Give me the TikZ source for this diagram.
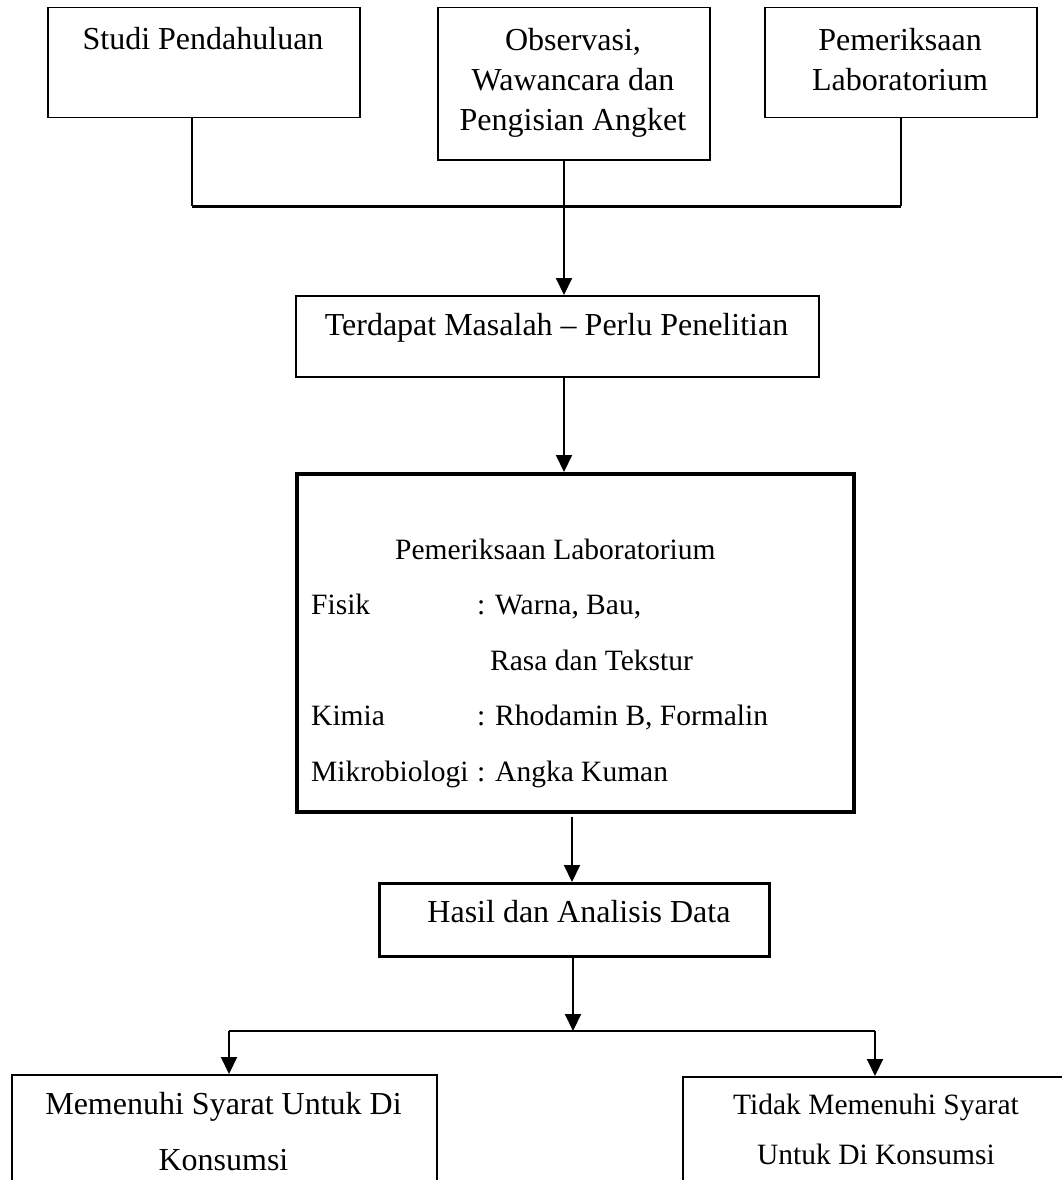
\documentclass[tikz,border=0pt]{standalone}
\usepackage{fontspec}
\setmainfont{Liberation Serif}
\usetikzlibrary{arrows.meta}
\begin{document}
\begin{tikzpicture}[x=1pt,y=-1pt,
  box/.style={draw, rectangle, inner sep=0pt, anchor=north west},
  txt/.style={inner sep=0pt, align=center, anchor=north},
  conn/.style={line width=2pt},
  bus/.style={line width=3pt},
  arr/.style={line width=2pt, -{Triangle[length=17pt,width=16pt]}},
  fbig/.style={font=\fontsize{32}{40}\selectfont},
]
\useasboundingbox (0,0) rectangle (1062,1180);
\clip (0,0) rectangle (1062,1180);
\fill[white] (0,0) rectangle (1062,1180);

% top boxes
\node[box, line width=1.5pt, minimum width=312pt, minimum height=110pt] (b1) at (47,7) {};
\node[box, line width=1.5pt, minimum width=272pt, minimum height=152pt] (b2) at (437,7) {};
\node[box, line width=1.5pt, minimum width=272pt, minimum height=110pt] (b3) at (764,7) {};
\node[txt, fbig] (b1t) at (203,21) {\strut Studi Pendahuluan};
\node[txt, fbig] (b2t) at (573,22) {\strut Observasi,\\Wawancara dan\\Pengisian Angket};
\node[txt, fbig] (b3t) at (900,22) {\strut Pemeriksaan\\Laboratorium};

% junction bus
\coordinate (j1) at (192,206);
\coordinate (j2) at (564,206);
\coordinate (j3) at (901,206);
\draw[conn] (b1.south -| j1) -- (j1);
\draw[conn] (b3.south -| j3) -- (j3);
\draw[bus] (j1) -- (j3);

% problem box
\node[box, line width=1.5pt, minimum width=523pt, minimum height=81pt] (t) at (295,295) {};
\node[txt, fbig] (tt) at (556.5,307) {\strut Terdapat Masalah – Perlu Penelitian};
\draw[arr] (b2.south -| j2) -- (t.north -| j2);

% laboratory box
\node[box, line width=3.5pt, minimum width=557pt, minimum height=338pt] (lab) at (295,472) {};
\draw[arr] (t.south -| j2) -- (lab.north -| j2);
\node[inner sep=0pt, anchor=north west, font=\fontsize{29.5}{55.5}\selectfont] (labt) at (311,520.15) {%
\begin{tabular}{@{}p{166pt}@{}l@{}}
\multicolumn{2}{@{}l@{}}{\hspace{84pt}Pemeriksaan Laboratorium}\\
Fisik & : Warna, Bau,\\
 & \hspace{13pt}Rasa dan Tekstur\\
Kimia & : Rhodamin B, Formalin\\
Mikrobiologi & : Angka Kuman
\end{tabular}};

% result box
\coordinate (k) at (572,0);
\node[box, line width=2.5pt, minimum width=390pt, minimum height=73pt] (h) at (378,882) {};
\node[txt, fbig] (ht) at (579,894) {\strut Hasil dan Analisis Data};
\draw[arr, shorten <=3pt] (lab.south -| k) -- (h.north -| k);

% lower bus
\coordinate (m1) at (229,1031);
\coordinate (m2) at (573,1031);
\coordinate (m3) at (875,1031);
\draw[arr] (h.south -| m2) -- (m2);
\draw[conn] (m1) -- (m3);

% outcome boxes
\node[box, line width=2pt, minimum width=425pt, minimum height=150pt] (yes) at (11,1074) {};
\node[box, line width=2pt, minimum width=420pt, minimum height=150pt] (no) at (682,1076) {};
\node[txt, font=\fontsize{32}{56}\selectfont] (yest) at (223.5,1074.8) {\strut Memenuhi Syarat Untuk Di\\Konsumsi};
\node[txt, font=\fontsize{29.5}{50}\selectfont] (not) at (876,1079) {\strut Tidak Memenuhi Syarat\\Untuk Di Konsumsi};
\draw[arr] (m1) -- (yes.north -| m1);
\draw[arr] (m3) -- (no.north -| m3);
\end{tikzpicture}
\end{document}
